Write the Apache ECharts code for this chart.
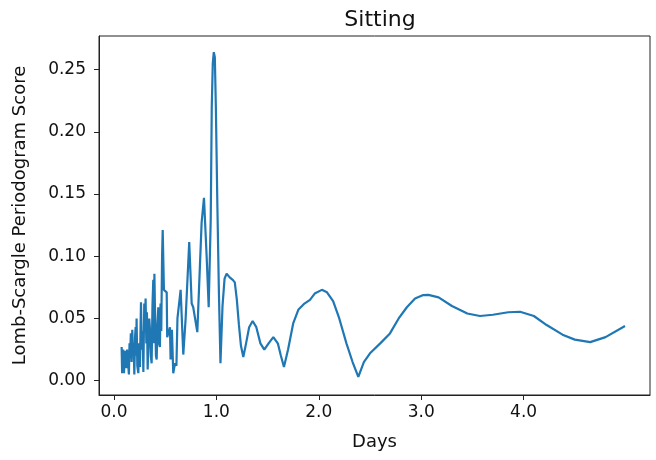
<!DOCTYPE html>
<html>
<head>
<meta charset="utf-8">
<script src="https://cdn.jsdelivr.net/npm/echarts@6/dist/echarts.min.js"></script>
<style>
  html, body { margin: 0; padding: 0; background: #fff; }
  #chart { width: 656px; height: 460px; }
</style>
</head>
<body>
<div id="chart"></div>
<script>
// period in days
const days = [
  0.075, 0.080, 0.090, 0.098, 0.106, 0.114, 0.122, 0.128, 0.133, 0.140,
  0.146, 0.152, 0.158, 0.165, 0.172, 0.179, 0.186, 0.192, 0.199, 0.206,
  0.212, 0.217, 0.221, 0.228, 0.238, 0.246, 0.254, 0.260, 0.264, 0.272,
  0.280, 0.287, 0.296, 0.302, 0.309, 0.316, 0.322, 0.329, 0.338, 0.345,
  0.352, 0.360, 0.368, 0.376, 0.384, 0.390, 0.395, 0.400, 0.410, 0.417,
  0.425, 0.433, 0.440, 0.449, 0.455, 0.462, 0.470, 0.476, 0.488, 0.498,
  0.515, 0.520, 0.547, 0.553, 0.566, 0.579, 0.596, 0.610, 0.620, 0.651,
  0.677, 0.700, 0.735, 0.759, 0.774, 0.791, 0.814, 0.856, 0.879, 0.905,
  0.925, 0.935, 0.945, 0.955, 0.965, 0.975, 0.985, 0.995, 1.010, 1.025,
  1.040, 1.060, 1.080, 1.100, 1.130, 1.160, 1.180, 1.200, 1.220, 1.240,
  1.263, 1.290, 1.320, 1.354, 1.390, 1.430, 1.468, 1.510, 1.556, 1.600,
  1.630, 1.660, 1.700, 1.750, 1.800, 1.860, 1.914, 1.960, 2.030, 2.080,
  2.140, 2.200, 2.270, 2.330, 2.386, 2.440, 2.500, 2.600, 2.695, 2.780,
  2.860, 2.940, 3.020, 3.070, 3.170, 3.300, 3.450, 3.574, 3.700, 3.850,
  3.965, 4.100, 4.225, 4.380, 4.500, 4.650, 4.800, 4.990
];

// Lomb-Scargle score
const scores = [
  0.027, 0.006, 0.025, 0.006, 0.024, 0.023, 0.010, 0.025, 0.025, 0.012,
  0.005, 0.030, 0.020, 0.038, 0.015, 0.041, 0.020, 0.030, 0.005, 0.035,
  0.043, 0.020, 0.050, 0.012, 0.006, 0.030, 0.011, 0.045, 0.063, 0.025,
  0.040, 0.007, 0.062, 0.040, 0.066, 0.030, 0.055, 0.009, 0.035, 0.050,
  0.041, 0.020, 0.014, 0.060, 0.081, 0.030, 0.086, 0.060, 0.020, 0.017,
  0.045, 0.059, 0.030, 0.027, 0.062, 0.040, 0.100, 0.121, 0.073, 0.073,
  0.071, 0.035, 0.043, 0.017, 0.041, 0.006, 0.014, 0.012, 0.050, 0.073,
  0.021, 0.050, 0.1115, 0.062, 0.059, 0.058, 0.039, 0.127, 0.147, 0.100,
  0.059, 0.060, 0.130, 0.220, 0.255, 0.264, 0.260, 0.220, 0.140, 0.070,
  0.014, 0.060, 0.082, 0.086, 0.083, 0.081, 0.079, 0.065, 0.045, 0.028,
  0.019, 0.030, 0.043, 0.048, 0.043, 0.030, 0.025, 0.030, 0.035, 0.030,
  0.020, 0.011, 0.025, 0.046, 0.057, 0.062, 0.065, 0.070, 0.073, 0.071,
  0.064, 0.050, 0.030, 0.015, 0.003, 0.015, 0.022, 0.030, 0.038, 0.050,
  0.059, 0.066, 0.0688, 0.069, 0.067, 0.060, 0.054, 0.052, 0.053, 0.055,
  0.0554, 0.052, 0.0447, 0.037, 0.033, 0.031, 0.035, 0.044
];

const xTicks = [0, 1, 2, 3, 4];
const yTicks = [0, 0.05, 0.10, 0.15, 0.20, 0.25];

const font = 'DejaVu Sans';
const chart = echarts.init(document.getElementById('chart'));

chart.setOption({
  animation: false,
  title: {
    text: 'Sitting',
    left: 375,
    top: 4,
    textAlign: 'center',
    textStyle: { fontFamily: font, fontSize: 22, fontWeight: 'normal', color: '#111' }
  },
  grid: {
    left: 99, right: 6, top: 36, bottom: 65,
    show: true, borderColor: '#222', borderWidth: 1
  },
  xAxis: {
    type: 'value',
    min: -0.146,
    max: 5.234,
    name: 'Days',
    nameLocation: 'middle',
    nameGap: 38,
    nameTextStyle: { fontFamily: font, fontSize: 18, color: '#111' },
    axisLine: { show: true, onZero: false, lineStyle: { color: '#222' } },
    axisTick: { show: true, length: 5, customValues: xTicks, lineStyle: { color: '#222' } },
    axisLabel: {
      customValues: xTicks,
      margin: 9,
      fontFamily: font, fontSize: 17, color: '#111',
      formatter: v => v.toFixed(1)
    },
    splitLine: { show: false }
  },
  yAxis: {
    type: 'value',
    min: -0.0115,
    max: 0.277,
    name: 'Lomb-Scargle Periodogram Score',
    nameLocation: 'middle',
    nameGap: 70,
    nameTextStyle: { fontFamily: font, fontSize: 18, color: '#111' },
    axisLine: { show: true, onZero: false, lineStyle: { color: '#222' } },
    axisTick: { show: true, length: 5, customValues: yTicks, lineStyle: { color: '#222' } },
    axisLabel: {
      customValues: yTicks,
      margin: 13,
      fontFamily: font, fontSize: 17, color: '#111',
      formatter: v => v.toFixed(2)
    },
    splitLine: { show: false }
  },
  series: [{
    type: 'line',
    data: days.map((d, i) => [d, scores[i]]),
    showSymbol: false,
    color: '#1f77b4',
    lineStyle: { width: 2.2, color: '#1f77b4' }
  }]
});
</script>
</body>
</html>
